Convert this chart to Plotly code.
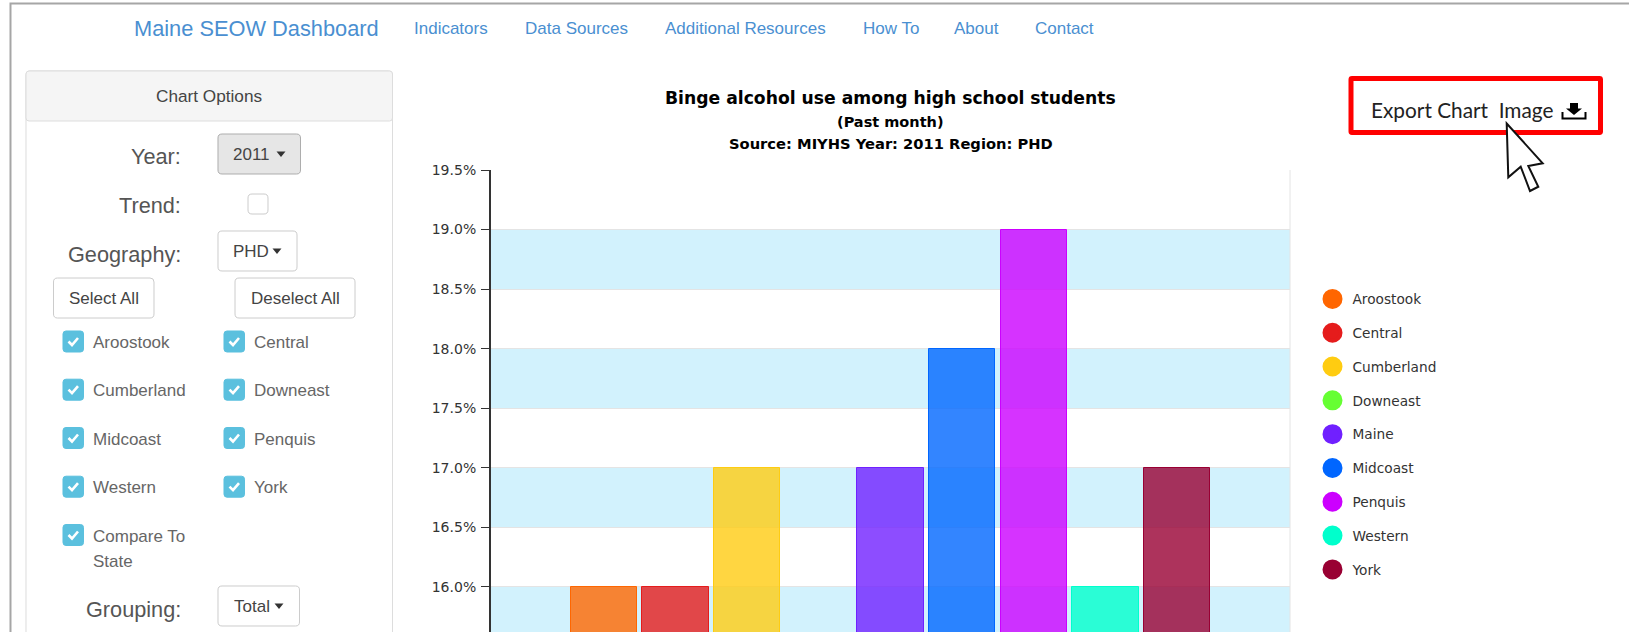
import plotly.graph_objects as go

# ---- data ----
regions = ["Aroostook", "Central", "Cumberland", "Downeast", "Maine",
           "Midcoast", "Penquis", "Western", "York"]
values = [16, 16, 17, None, 17, 18, 19, 16, 17]
colors = ["#ff6600", "#e51c1c", "#ffcc11", "#66ff33", "#7020ff",
          "#0066ff", "#cc00ff", "#00ffcc", "#990033"]
y_ticks = [16.0, 16.5, 17.0, 17.5, 18.0, 18.5, 19.0, 19.5]
shaded_bands = [(15.5, 16.0), (16.5, 17.0), (17.5, 18.0), (18.5, 19.0)]
title_lines = ["Binge alcohol use among high school students", "(Past month)",
               "Source: MIYHS Year: 2011 Region: PHD"]
nav_links = ["Indicators", "Data Sources", "Additional Resources", "How To", "About", "Contact"]
check_left = ["Aroostook", "Cumberland", "Midcoast", "Western", "Compare To"]
check_right = ["Central", "Downeast", "Penquis", "York"]

W, H = 1629, 632
L, R, T = 491, 1290, 170
PW, PH = R - L, H - T


def px(x):
    return (x - L) / PW


def py(y):
    return 1 - (y - T) / PH


def rgba(c, a):
    c = c.lstrip("#")
    return "rgba(%d,%d,%d,%s)" % (int(c[:2], 16), int(c[2:4], 16), int(c[4:], 16), a)


shapes, annos = [], []


def poly(d, fill, line, w):
    # path given in page pixels; converted into paper coordinates
    out = []
    for tok in d.split():
        cmd = ""
        if tok[0].isalpha():
            cmd, tok = tok[0], tok[1:]
        if "," in tok:
            a, b = tok.split(",")
            out.append(f"{cmd}{px(float(a)):.5f},{py(float(b)):.5f}")
        else:
            out.append(cmd + tok)
    return dict(type="path", xref="paper", yref="paper", path=" ".join(out), fillcolor=fill,
                line=dict(color=line, width=w), layer="above")


def rect(x0, y0, x1, y1, fill="rgba(0,0,0,0)", line="#cccccc", w=1, r=4):
    d = (f"M{x0+r},{y0} L{x1-r},{y0} Q{x1},{y0} {x1},{y0+r} L{x1},{y1-r} Q{x1},{y1} {x1-r},{y1} "
         f"L{x0+r},{y1} Q{x0},{y1} {x0},{y1-r} L{x0},{y0+r} Q{x0},{y0} {x0+r},{y0} Z")
    shapes.append(poly(d, fill, line, w))


def text(s, x, y, size=17, color="#555555", anchor="left", font="Liberation Sans"):
    annos.append(dict(text=s, x=px(x), y=py(y), xref="paper", yref="paper", xanchor=anchor,
                      yanchor="middle", showarrow=False, borderpad=0,
                      font=dict(family=font, size=size, color=color)))


def caret(x, y):
    shapes.append(poly(f"M{x-4.5},{y-2.5} L{x+4.5},{y-2.5} L{x},{y+3} Z", "#333333", "#333333", 0))


def button(x0, y0, x1, y1, label, tx, cx=None, fill="#ffffff", line="#cccccc"):
    rect(x0, y0, x1, y1, fill, line, 1)
    text(label, tx, (y0 + y1) / 2, 17, "#444444", "center")
    if cx:
        caret(cx, (y0 + y1) / 2)


def checkbox(x, y, label):
    rect(x, y - 10.5, x + 20.5, y + 10.5, "#5bc0de", "#5bc0de", 1, 3)
    shapes.append(poly(f"M{x+5.5},{y} L{x+9},{y+3.5} L{x+15},{y-3.5}", "rgba(0,0,0,0)", "#ffffff", 2.6))
    text(label, x + 29, y + 1, 17, "#666666")


# page frame
shapes.append(poly(f"M10.5,{H} L10.5,3.5 L1629,3.5", "rgba(0,0,0,0)", "#a6a6a6", 2))

# navbar
text("Maine SEOW Dashboard", 132.5, 29, 21.8, "#4a8fd1")
for lab, x in zip(nav_links, [412.5, 523.5, 664, 861.5, 952.5, 1033.5]):
    text(lab, x, 28.5, 17, "#4a8fd1")

# panel
rect(26, 71, 392.5, 640, "#ffffff", "#dddddd", 1)
rect(26, 71, 392.5, 121, "#f5f5f5", "#dddddd", 1, 3)
text("Chart Options", 209, 96.5, 17.2, "#444444", "center")

text("Year:", 182, 157, 21.7, "#555555", "right")
text("Trend:", 182, 205.5, 21.7, "#555555", "right")
text("Geography:", 182, 254.5, 21.7, "#555555", "right")
text("Grouping:", 182, 609.5, 21.7, "#555555", "right")
button(218, 134, 300.5, 174, "2011", 251.5, 281, "#e6e6e6", "#adadad")
rect(248, 194, 268, 214, "#ffffff", "#cccccc", 1)
button(218, 231, 297, 271, "PHD", 250.5, 277)
button(53.5, 278, 154, 318, "Select All", 104)
button(235, 278, 355, 318, "Deselect All", 295)
button(218, 586, 299.5, 626, "Total", 252, 279)

for lab, y in zip(check_left, [341.5, 389.7, 438, 486.7, 535]):
    checkbox(63, y, lab)
for lab, y in zip(check_right, [341.5, 389.7, 438, 486.7]):
    checkbox(224, y, lab)
text("State", 92, 561, 17, "#666666")

# chart titles
for lab, y, size in zip(title_lines, [98, 121.5, 143.5], [17.2, 14.5, 14.7]):
    text(f"<b>{lab}</b>", 890.5, y, size, "#000000", "center", "DejaVu Sans")

# alternating bands behind the bars
for lo, hi in shaded_bands:
    shapes.append(dict(type="rect", xref="paper", x0=0, x1=1, yref="y", y0=lo, y1=hi,
                       fillcolor="#d2f2fd", line_width=0, layer="below"))

# export call-out
rect(1351, 78.5, 1600.5, 132.5, "rgba(0,0,0,0)", "#ff0000", 5, 1)
text("Export Chart  Image", 1369.5, 110, 20.8, "#222222", "left", "Lato")
shapes.append(poly("M1570,103 L1578,103 L1578,108.5 L1582,108.5 L1574,115 L1566,108.5 L1570,108.5 Z",
                   "#000000", "#000000", 0))
shapes.append(poly("M1562.5,112 L1562.5,118.5 L1585.5,118.5 L1585.5,112", "rgba(0,0,0,0)", "#000000", 2))
shapes.append(poly("M1506.7,123.5 L1508.3,177.3 L1520.7,166.7 L1530,191 L1538.3,186.7 L1528.3,166 L1542.7,163.3 Z",
                   "#ffffff", "#111111", 2))

fig = go.Figure()
for name, v, c in zip(regions, values, colors):
    fig.add_bar(x=[name], y=[v], width=0.928, showlegend=False,
                marker=dict(color=rgba(c, 0.8), line=dict(color=c, width=1)))
for name, c in zip(regions, colors):
    fig.add_scatter(x=[None], y=[None], mode="markers", name=name, legendgroup=name,
                    marker=dict(symbol="circle", size=16, color=c, line=dict(color=c, width=4)))

fig.update_layout(
    width=W, height=H, autosize=False, paper_bgcolor="#ffffff", plot_bgcolor="#ffffff",
    margin=dict(l=L, r=W - R, t=T, b=0, autoexpand=False),
    bargap=0, shapes=shapes, annotations=annos,
    legend=dict(x=px(1312.5), y=py(283.5), xanchor="left", yanchor="top", tracegroupgap=13,
                bgcolor="rgba(0,0,0,0)", font=dict(family="DejaVu Sans", size=13.7, color="#333333"),
                itemclick=False, itemdoubleclick=False),
    xaxis=dict(type="category", categoryorder="array", categoryarray=regions,
               range=[-1.578, 9.578], visible=False, fixedrange=True),
    yaxis=dict(range=[15.62, 19.5], tickvals=y_ticks, ticktext=[f"{t:.1f}%" for t in y_ticks],
               showgrid=True, gridcolor="#e4e4e4", gridwidth=1, zeroline=False,
               showline=True, linecolor="#333333", linewidth=2, ticks="outside", ticklen=8,
               tickcolor="#333333", tickfont=dict(family="DejaVu Sans", size=14, color="#333333"),
               ticklabelstandoff=2, fixedrange=True),
)
fig.add_shape(type="line", xref="paper", x0=1, x1=1, yref="paper", y0=0, y1=1,
              line=dict(color="#e4e4e4", width=1), layer="below")

fig.write_html("out.html", config=dict(displayModeBar=False),
               post_script="document.body.style.margin='0';document.body.style.overflow='hidden';")
